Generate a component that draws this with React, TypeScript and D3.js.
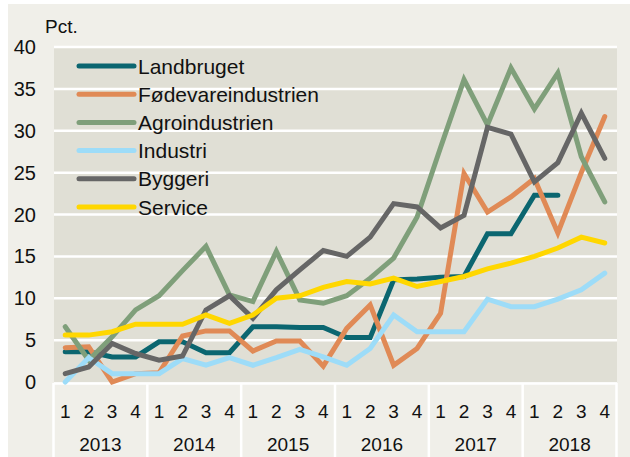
import React from "react";
import * as d3 from "d3";

const years = ["2013", "2014", "2015", "2016", "2017", "2018"];
const quarters = ["1", "2", "3", "4"];
const yTicks = [0, 5, 10, 15, 20, 25, 30, 35, 40];

const landbruget = [3.6, 3.6, 3.0, 3.0, 4.8, 4.8, 3.5, 3.5, 6.6, 6.6, 6.5, 6.5, 5.3, 5.3, 12.2, 12.3, 12.5, 12.6, 17.7, 17.7, 22.3, 22.3, null, null];
const foedevare = [4.1, 4.2, 0.0, 1.0, 1.1, 5.5, 6.1, 6.1, 3.7, 4.9, 4.9, 1.9, 6.4, 9.2, 2.0, 4.0, 8.2, 24.9, 20.3, 22.1, 24.3, 17.8, 25.0, 31.7];
const agro = [6.6, 2.6, 5.4, 8.6, 10.3, 13.3, 16.2, 10.4, 9.6, 15.6, 9.8, 9.4, 10.3, 12.4, 14.8, 19.7, 28.0, 36.1, 30.7, 37.5, 32.6, 36.9, 26.9, 21.5];
const industri = [0.0, 2.9, 1.0, 1.0, 1.0, 2.8, 2.0, 2.9, 2.0, 2.9, 3.9, 3.0, 2.0, 4.0, 8.0, 6.0, 6.0, 6.0, 9.9, 9.0, 9.0, 9.9, 11.0, 13.0];
const byggeri = [1.0, 1.8, 4.6, 3.4, 2.6, 3.1, 8.6, 10.3, 7.6, 11.0, 13.4, 15.7, 15.0, 17.3, 21.3, 20.9, 18.4, 19.9, 30.4, 29.6, 23.9, 26.2, 32.1, 26.7];
const service = [5.6, 5.6, 6.0, 6.9, 6.9, 6.9, 8.0, 7.0, 8.0, 10.0, 10.3, 11.3, 12.0, 11.7, 12.4, 11.4, 12.0, 12.6, 13.5, 14.2, 15.0, 16.0, 17.3, 16.6];

const series = [
  { name: "Landbruget", values: landbruget, color: "#0b6670" },
  { name: "Fødevareindustrien", values: foedevare, color: "#e08a56" },
  { name: "Agroindustrien", values: agro, color: "#7f9f7a" },
  { name: "Industri", values: industri, color: "#9ddcf8" },
  { name: "Byggeri", values: byggeri, color: "#666666" },
  { name: "Service", values: service, color: "#ffd700" },
];

const W = 630;
const H = 457;
const font = "'Liberation Sans', Arial, sans-serif";

export default function App() {
  const plot = { left: 54, right: 617, top: 47, bottom: 382 };
  const keys = years.flatMap((y) => quarters.map((q) => `${y}-${q}`));

  const x = d3.scaleBand().domain(keys).range([53.5, 616.5]);
  const xc = (i) => (x(keys[i]) ?? 0) + x.bandwidth() / 2;
  const y = d3.scaleLinear().domain([0, 40]).range([plot.bottom, plot.top]);

  const line = d3
    .line<number | null>()
    .defined((d) => d != null)
    .x((d, i) => xc(i))
    .y((d) => y(d as number));

  const legendY = (i) => 66 + i * 28.2;

  return (
    <svg
      width={W}
      height={H}
      style={{ position: "absolute", left: 0, top: 0, fontFamily: font }}
    >
      <rect x={0} y={0} width={W} height={H} fill="#ffffff" />
      <rect x={8} y={4} width={W - 8} height={H - 4} fill="#f0efe9" />
      <rect
        x={plot.left}
        y={plot.top}
        width={plot.right - plot.left}
        height={plot.bottom - plot.top}
        fill="#e0dfd5"
      />
      {yTicks.map((t) => (
        <g key={t}>
          {t > 0 && (
            <line
              x1={plot.left}
              x2={plot.right}
              y1={y(t)}
              y2={y(t)}
              stroke="#ffffff"
              strokeWidth={2.5}
            />
          )}
          <text
            x={36}
            y={y(t)}
            textAnchor="end"
            dominantBaseline="central"
            fontSize={20}
            fill="#111"
          >
            {t}
          </text>
        </g>
      ))}
      <text x={45} y={33} fontSize={19} fill="#111">
        Pct.
      </text>

      {/* x axis area */}
      <line x1={plot.left} x2={plot.right} y1={383.5} y2={383.5} stroke="#ffffff" strokeWidth={2.5} />
      {years.map((yr, j) => {
        const x0 = x(`${yr}-1`) ?? 0;
        return (
          <g key={yr}>
            <line x1={x0} x2={x0} y1={383} y2={H} stroke="#ffffff" strokeWidth={2.5} />
            {quarters.map((q) => (
              <text
                key={q}
                x={(x(`${yr}-${q}`) ?? 0) + x.bandwidth() / 2}
                y={411}
                textAnchor="middle"
                dominantBaseline="central"
                fontSize={19}
                fill="#111"
              >
                {q}
              </text>
            ))}
            <text
              x={x0 + (x.bandwidth() * 4) / 2}
              y={444}
              textAnchor="middle"
              dominantBaseline="central"
              fontSize={19}
              fill="#111"
            >
              {yr}
            </text>
          </g>
        );
      })}
      <line x1={616.5} x2={616.5} y1={383} y2={H} stroke="#ffffff" strokeWidth={2.5} />

      {/* lines */}
      {series.map((s) => (
        <path
          key={s.name}
          d={line(s.values) ?? ""}
          fill="none"
          stroke={s.color}
          strokeWidth={5}
          strokeLinecap="round"
          strokeLinejoin="miter"
        />
      ))}

      {/* legend */}
      {series.map((s, i) => (
        <g key={s.name}>
          <line
            x1={79}
            x2={134}
            y1={legendY(i)}
            y2={legendY(i)}
            stroke={s.color}
            strokeWidth={5}
            strokeLinecap="round"
          />
          <text
            x={138}
            y={legendY(i)}
            dominantBaseline="central"
            fontSize={21}
            fill="#111"
          >
            {s.name}
          </text>
        </g>
      ))}
    </svg>
  );
}
